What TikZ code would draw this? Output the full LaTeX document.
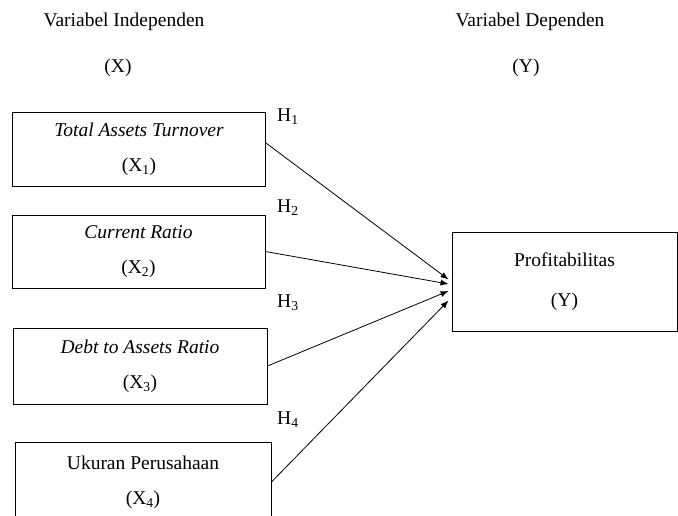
\documentclass[tikz,border=0pt]{standalone}
\usepackage{fontspec}
\setmainfont{Liberation Serif}
\usetikzlibrary{arrows.meta,positioning,calc}

\begin{document}
\begin{tikzpicture}[x=1pt, y=-1pt, >={Latex[length=8pt,width=6pt]},
    every node/.style={font=\fontsize{19.5}{35}\selectfont},
    varbox/.style={draw, line width=0.9pt, align=center, inner sep=0pt},
    hyp/.style={anchor=west, inner sep=0pt},
    link/.style={->, line width=0.8pt}]
  \useasboundingbox (0,0) rectangle (678,515);

  % Headers
  \node (hind) at (124,22) {Variabel Independen};
  \node (hx) at (118,68) {(X)};
  \node (hdep) at (530,22) {Variabel Dependen};
  \node (hy) at (526,68) {(Y)};

  % Left side: independent variables
  \node[varbox, minimum width=253pt, minimum height=74pt] (tat) at (139,149)
    {\textit{Total Assets Turnover}\\(X\textsubscript{1})};
  \node[varbox, minimum width=253pt, minimum height=73pt] (cr) at (138.5,251.5)
    {\textit{Current Ratio}\\(X\textsubscript{2})};
  \node[varbox, minimum width=254pt, minimum height=76pt] (dar) at (140,366)
    {\textit{Debt to Assets Ratio}\\(X\textsubscript{3})};
  \node[varbox, minimum width=256pt, minimum height=80pt] (size) at (143,482)
    {Ukuran Perusahaan\\(X\textsubscript{4})};

  % Right side: dependent variable
  \node[varbox, minimum width=225pt, minimum height=99pt,
        font=\fontsize{19.5}{40}\selectfont] (profit) at (564.5,281.5)
    {Profitabilitas\\(Y)};

  % Hypotheses
  \node[hyp] (h1) at (277,117) {H\textsubscript{1}};
  \node[hyp] (h2) at (277,208) {H\textsubscript{2}};
  \node[hyp] (h3) at (277,303) {H\textsubscript{3}};
  \node[hyp] (h4) at (277,420) {H\textsubscript{4}};

  % Arrows
  \coordinate (tip1) at ($(profit.west)+(-3,-2)$);
  \coordinate (tip2) at ($(profit.west)+(-3,2.5)$);
  \coordinate (tip3) at ($(profit.west)+(-3,9.5)$);
  \coordinate (tip4) at ($(profit.west)+(-3,19)$);
  \draw[link] ($(tat.east)+(0,-6)$) -- (tip1);
  \draw[link] (cr.east) -- (tip2);
  \draw[link] (dar.east) -- (tip3);
  \draw[link] (size.east) -- (tip4);
\end{tikzpicture}
\end{document}
